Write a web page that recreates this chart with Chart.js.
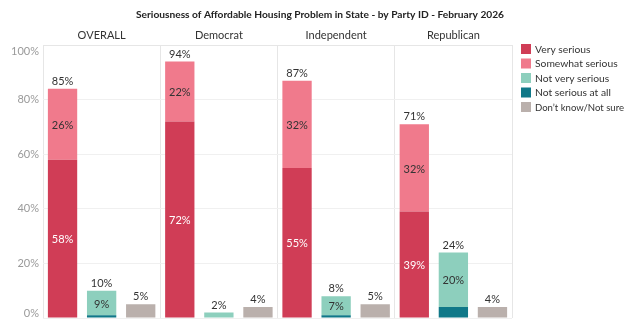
<!DOCTYPE html>
<html>
<head>
<meta charset="utf-8">
<style>
  html, body { margin: 0; padding: 0; background: #ffffff; }
  #wrap { width: 626px; height: 326px; position: relative; }
</style>
<script src="https://cdn.jsdelivr.net/npm/chart.js@4/dist/chart.umd.min.js"></script>
</head>
<body>
<div id="wrap"><canvas id="c" width="626" height="326"></canvas></div>
<script>
// Party groups shown as panels
const parties = ['OVERALL', 'Democrat', 'Independent', 'Republican'];

// Share of respondents (%) by answer
const verySerious      = [58, 72, 55, 39];
const somewhatSerious  = [26, 22, 32, 32];
const notVerySerious   = [9, 2, 7, 20];
const notSeriousAtAll  = [1, 0, 1, 4];
const dontKnow         = [5, 4, 5, 4];

// Combined totals printed above each stack
const seriousTotal     = [85, 94, 87, 71];
const notSeriousTotal  = [10, 2, 8, 24];

// Value axis ticks
const yTicks = [0, 20, 40, 60, 80, 100];

const titleText = 'Seriousness of Affordable Housing Problem in State - by Party ID - February 2026';
const FONT = 'Lato, "Open Sans", sans-serif';

const colors = {
  very: '#d03d56',
  somewhat: '#f07a8c',
  notVery: '#8dcfbd',
  notAtAll: '#107888',
  dk: '#bab0ac'
};

const legendItems = [
  { text: 'Very serious', color: colors.very },
  { text: 'Somewhat serious', color: colors.somewhat },
  { text: 'Not very serious', color: colors.notVery },
  { text: 'Not serious at all', color: colors.notAtAll },
  { text: 'Don\u2019t know/Not sure', color: colors.dk }
];

// Title, y tick labels, legend and value labels
const decorPlugin = {
  id: 'decor',
  afterDraw(chart) {
    const ctx = chart.ctx;
    const area = chart.chartArea;
    const y = chart.scales.y;
    ctx.save();

    // title
    ctx.font = 'bold 10.2px ' + FONT;
    ctx.fillStyle = '#222';
    ctx.textAlign = 'center';
    ctx.textBaseline = 'middle';
    ctx.fillText(titleText, 320, 15);

    // y tick labels, kept inside the plot's vertical extent
    ctx.font = '11px ' + FONT;
    ctx.fillStyle = '#9a9a9a';
    ctx.textAlign = 'right';
    yTicks.forEach(v => {
      let py = y.getPixelForValue(v);
      py = Math.max(area.top + 6, Math.min(area.bottom - 5, py));
      ctx.fillText(v + '%', area.left - 4, py);
    });

    // legend (right column)
    ctx.textAlign = 'left';
    ctx.font = '10.3px ' + FONT;
    legendItems.forEach((it, i) => {
      const cy = 49 + i * 14.5;
      ctx.fillStyle = it.color;
      ctx.fillRect(521, cy - 5, 10, 10);
      ctx.fillStyle = '#333';
      ctx.fillText(it.text, 535, cy + 0.5, 89);
    });

    ctx.restore();
  },
  afterDatasetsDraw(chart) {
    const ctx = chart.ctx;
    ctx.save();
    ctx.font = '11px ' + FONT;
    ctx.textAlign = 'center';

    const inside = (dsIndex, color) => {
      const meta = chart.getDatasetMeta(dsIndex);
      const data = chart.data.datasets[dsIndex].data;
      meta.data.forEach((bar, i) => {
        if (data[i] < 5) return;
        ctx.fillStyle = color;
        ctx.textBaseline = 'middle';
        ctx.fillText(data[i] + '%', bar.x, (bar.y + bar.base) / 2 + 1);
      });
    };
    const above = (dsIndex, values) => {
      const meta = chart.getDatasetMeta(dsIndex);
      meta.data.forEach((bar, i) => {
        ctx.fillStyle = '#333';
        ctx.textBaseline = 'bottom';
        ctx.fillText(values[i] + '%', bar.x, Math.min(bar.y, bar.base) - 2);
      });
    };

    inside(0, '#ffffff');
    inside(1, '#333333');
    inside(3, '#333333');
    above(1, seriousTotal);
    above(3, notSeriousTotal);
    above(4, dontKnow);
    ctx.restore();
  }
};

new Chart(document.getElementById('c'), {
  type: 'bar',
  data: {
    labels: parties,
    datasets: [
      { label: 'Very serious', data: verySerious, backgroundColor: colors.very, stack: 's' },
      { label: 'Somewhat serious', data: somewhatSerious, backgroundColor: colors.somewhat, stack: 's' },
      { label: 'Not serious at all', data: notSeriousAtAll, backgroundColor: colors.notAtAll, stack: 'n' },
      { label: 'Not very serious', data: notVerySerious, backgroundColor: colors.notVery, stack: 'n' },
      { label: 'Don\u2019t know/Not sure', data: dontKnow, backgroundColor: colors.dk, stack: 'd' }
    ]
  },
  options: {
    responsive: false,
    animation: false,
    devicePixelRatio: 1,
    categoryPercentage: 1.0,
    barPercentage: 0.75,
    layout: { padding: { top: 26, left: 43, right: 114, bottom: 8 } },
    plugins: {
      legend: { display: false },
      title: { display: false },
      tooltip: { enabled: false }
    },
    scales: {
      x: {
        position: 'top',
        stacked: true,
        grid: { offset: true, color: '#e6e6e6', drawTicks: false, lineWidth: 1 },
        border: { color: '#e6e6e6' },
        ticks: { color: '#333', font: { family: FONT, size: 11 }, padding: 3 }
      },
      y: {
        stacked: true,
        min: 0,
        max: 100,
        ticks: { stepSize: 20, display: false },
        grid: { color: '#f0f0f0', drawTicks: false },
        border: { display: false }
      }
    }
  },
  plugins: [decorPlugin]
});
</script>
</body>
</html>
